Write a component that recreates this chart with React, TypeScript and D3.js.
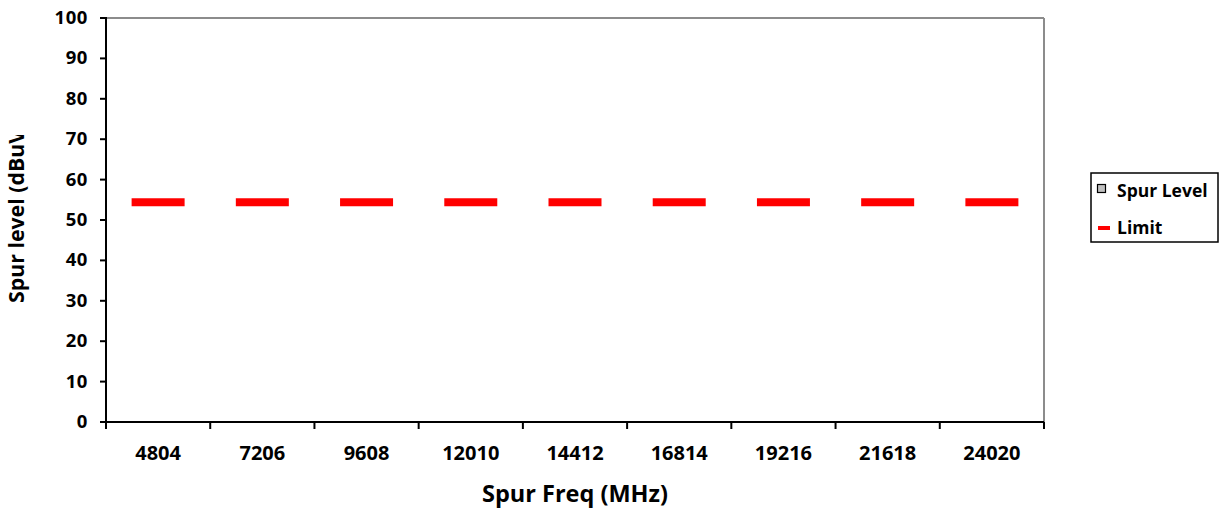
import React from "react";
import * as d3 from "d3";

const categories = ["4804", "7206", "9608", "12010", "14412", "16814", "19216", "21618", "24020"];
const spurLevel = [0, 0, 0, 0, 0, 0, 0, 0, 0];
const limit = [54.4, 54.4, 54.4, 54.4, 54.4, 54.4, 54.4, 54.4, 54.4];
const yTicks = [0, 10, 20, 30, 40, 50, 60, 70, 80, 90, 100];
const legendItems = ["Spur Level", "Limit"];
const xTitle = "Spur Freq (MHz)";
const yTitle = "Spur level (dBuV/m)";

const W = 1225;
const H = 513;
const L = 106, R = 1044, T = 18, B = 422;
const FONT = "'Open Sans', 'DejaVu Sans', sans-serif";

export default function App() {
  const x = d3.scaleBand<string>().domain(categories).range([L, R]);
  const y = d3.scaleLinear().domain([0, 100]).range([B, T]);
  const bw = x.bandwidth();
  const boundaries = categories.map((c) => x(c) as number).concat([R]);

  return (
    <svg
      width={W}
      height={H}
      style={{ position: "absolute", left: 0, top: 0, background: "#fff" }}
      fontFamily={FONT}
      fontWeight={700}
    >
      <defs>
        <clipPath id="ytclip">
          <rect x={0} y={135} width={60} height={300} />
        </clipPath>
      </defs>
      <rect x={0} y={0} width={W} height={H} fill="#fff" />
      {/* plot border top/right */}
      <line x1={L} y1={T} x2={R} y2={T} stroke="#8c8c8c" strokeWidth={2} />
      <line x1={R} y1={T} x2={R} y2={B} stroke="#8c8c8c" strokeWidth={2} />

      {/* spur level bars */}
      {spurLevel.map((v, i) => (
        <rect
          key={"b" + i}
          x={(x(categories[i]) as number) + bw * 0.25}
          y={y(v)}
          width={bw * 0.5}
          height={B - y(v)}
          fill="#c0c0c0"
        />
      ))}

      {/* limit dashes */}
      {limit.map((v, i) => {
        const cx = (x(categories[i]) as number) + bw / 2;
        return (
          <line
            key={"l" + i}
            x1={cx - 26.5}
            x2={cx + 26.5}
            y1={y(v)}
            y2={y(v)}
            stroke="#ff0000"
            strokeWidth={8}
          />
        );
      })}

      {/* y axis */}
      <line x1={L} y1={T - 1} x2={L} y2={B + 1} stroke="#000" strokeWidth={2} />
      {yTicks.map((t) => (
        <g key={"yt" + t}>
          <line x1={L - 6} x2={L} y1={y(t)} y2={y(t)} stroke="#000" strokeWidth={2} />
          <text x={88} y={y(t) + 6} textAnchor="end" fontSize={18.5} letterSpacing={0.6} fill="#000">
            {t}
          </text>
        </g>
      ))}

      {/* x axis */}
      <line x1={L - 6} x2={R} y1={B} y2={B} stroke="#000" strokeWidth={2} />
      {boundaries.map((bx, i) => (
        <line key={"xt" + i} x1={bx} x2={bx} y1={B} y2={B + 7} stroke="#000" strokeWidth={2} />
      ))}
      {categories.map((c) => (
        <text
          key={"xl" + c}
          x={(x(c) as number) + bw / 2}
          y={460}
          textAnchor="middle"
          fontSize={20}
          fill="#000"
        >
          {c}
        </text>
      ))}

      {/* titles */}
      <text x={(L + R) / 2} y={502} textAnchor="middle" fontSize={23.5} fill="#000">
        {xTitle}
      </text>
      <g clipPath="url(#ytclip)">
        <text
          transform={`translate(24,303) rotate(-90)`}
          textAnchor="start"
          fontSize={21.3}
          fill="#000"
        >
          {yTitle}
        </text>
      </g>

      {/* legend */}
      <rect x={1091} y={173} width={127} height={69} fill="#fff" stroke="#000" strokeWidth={1.5} />
      <rect x={1097.5} y={184.5} width={8} height={8} fill="#c0c0c0" stroke="#000" strokeWidth={1.2} />
      <text x={1117} y={197} fontSize={17.5} fill="#000">
        {legendItems[0]}
      </text>
      <line x1={1098} x2={1110} y1={228} y2={228} stroke="#ff0000" strokeWidth={4} />
      <text x={1117} y={234} fontSize={17.5} fill="#000">
        {legendItems[1]}
      </text>
    </svg>
  );
}
